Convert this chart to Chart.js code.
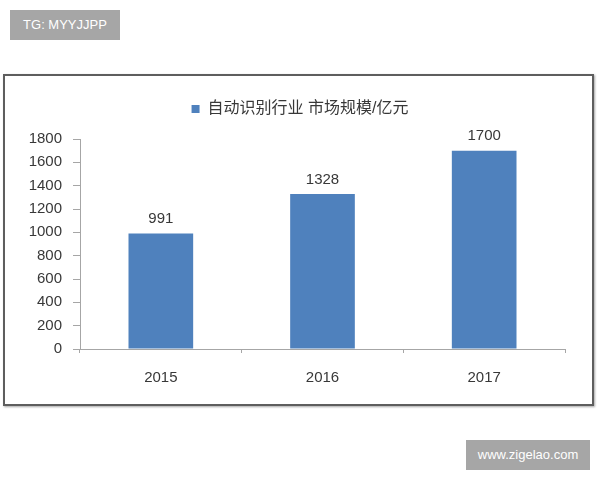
<!DOCTYPE html>
<html>
<head>
<meta charset="utf-8">
<script src="https://cdn.jsdelivr.net/npm/chart.js@4.4.1/dist/chart.umd.min.js"></script>
<style>
  html, body { margin: 0; padding: 0; background: #ffffff; }
  #wrap { position: relative; width: 600px; height: 480px; overflow: hidden; }
  #frame { position: absolute; left: 3px; top: 74px; width: 587px; height: 328px;
           border: 2px solid #5e5e5e; box-shadow: 1px 1px 2px rgba(0,0,0,0.35); }
  .tag { position: absolute; background: #a6a6a6; color: #ffffff;
         font-family: "Liberation Sans", Arial, sans-serif; font-size: 13px;
         line-height: 30px; text-align: center; }
  #tg { left: 10px; top: 10px; width: 110px; height: 30px; }
  #site { left: 466px; top: 440px; width: 124px; height: 30px; }
  canvas { position: absolute; left: 0; top: 0; }
</style>
</head>
<body>
<div id="wrap">
  <div id="frame"></div>
  <canvas id="c" width="600" height="480"></canvas>
  <div class="tag" id="tg">TG: MYYJJPP</div>
  <div class="tag" id="site">www.zigelao.com</div>
</div>
<script>
const categories = ["2015", "2016", "2017"];
const seriesName = "自动识别行业 市场规模/亿元";
const marketSize = [991, 1328, 1700];
const yTicks = [0, 200, 400, 600, 800, 1000, 1200, 1400, 1600, 1800];
const yTickLabels = ["0", "200", "400", "600", "800", "1000", "1200", "1400", "1600", "1800"];

const FONT = "'Liberation Sans', 'Noto Sans CJK SC', Arial, sans-serif";
const TEXT = "#383838";
const AXIS = "#a6a6a6";
const BLUE = "#4f81bd";

const valueLabels = {
  id: "valueLabels",
  afterDatasetsDraw(chart) {
    const ctx = chart.ctx;
    ctx.save();
    ctx.font = "15px " + FONT;
    ctx.fillStyle = TEXT;
    ctx.textAlign = "center";
    ctx.textBaseline = "bottom";
    chart.data.datasets.forEach((ds, di) => {
      chart.getDatasetMeta(di).data.forEach((bar, i) => {
        ctx.fillText(String(ds.data[i]), bar.x, bar.y - 7);
      });
    });
    ctx.restore();
  }
};

// keep the legend band a fixed height so the plot area starts where the reference's does
const legendBand = {
  id: "legendBand",
  beforeLayout(chart) {
    const lg = chart.legend;
    if (lg && !lg._bandPatched) {
      const fit = lg.fit.bind(lg);
      lg.fit = function () { fit(); this.height = 54; };
      lg._bandPatched = true;
    }
  }
};

Chart.defaults.font.family = FONT;
Chart.defaults.color = TEXT;

new Chart(document.getElementById("c"), {
  type: "bar",
  data: {
    labels: categories,
    datasets: [{
      label: seriesName,
      data: marketSize,
      backgroundColor: BLUE,
      borderWidth: 0,
      categoryPercentage: 1.0,
      barPercentage: 0.4,
      yAxisID: "y"
    }]
  },
  options: {
    responsive: false,
    devicePixelRatio: 1,
    animation: false,
    layout: { padding: { top: 85, left: 20, right: 20, bottom: 0 } },
    plugins: {
      legend: {
        position: "top",
        labels: {
          boxWidth: 8, boxHeight: 8, padding: 16,
          color: TEXT,
          font: { size: 16, family: FONT }
        }
      },
      tooltip: { enabled: false }
    },
    scales: {
      x: {
        afterFit(scale) { scale.height = 131; },
        grid: { display: true, drawOnChartArea: false, drawTicks: true, tickLength: 4, color: AXIS, offset: true },
        border: { display: true, color: AXIS, width: 1 },
        ticks: { padding: 16, color: TEXT, font: { size: 15 } }
      },
      y: {
        min: yTicks[0],
        max: yTicks[yTicks.length - 1],
        afterFit(scale) { scale.width = 60; },
        afterBuildTicks(scale) { scale.ticks = yTicks.map(v => ({ value: v })); },
        grid: { display: true, drawOnChartArea: false, drawTicks: true, tickLength: 7, color: AXIS },
        border: { display: true, color: AXIS, width: 1 },
        ticks: {
          padding: 11, color: TEXT, font: { size: 15 },
          callback: (v) => { const i = yTicks.indexOf(v); return i >= 0 ? yTickLabels[i] : ""; }
        }
      },
      spacer: {
        type: "linear",
        position: "right",
        display: true,
        afterFit(scale) { scale.width = 15; },
        grid: { display: false },
        border: { display: false },
        ticks: { display: false }
      }
    }
  },
  plugins: [valueLabels, legendBand]
});
</script>
</body>
</html>
